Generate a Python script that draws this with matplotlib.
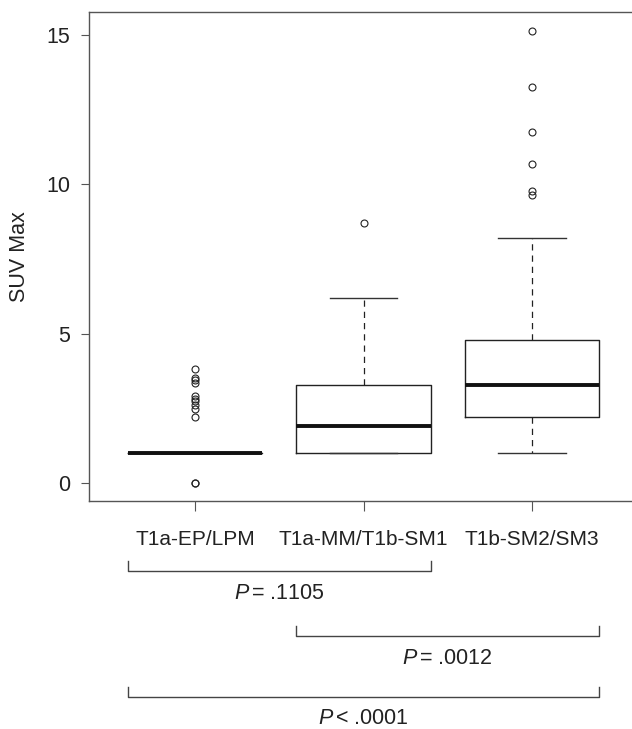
import numpy as np
import matplotlib
matplotlib.use("Agg")
import matplotlib.pyplot as plt
import matplotlib.transforms as mtransforms

plt.rcParams['font.family'] = ['Liberation Sans', 'DejaVu Sans']
plt.rcParams['mathtext.fontset'] = 'custom'
plt.rcParams['mathtext.it'] = 'Liberation Sans:italic'
plt.rcParams['mathtext.rm'] = 'Liberation Sans'

# data (box statistics per group)
groups = ['T1a-EP/LPM', 'T1a-MM/T1b-SM1', 'T1b-SM2/SM3']
q1 = [1.0, 1.0, 2.2]
medians = [1.0, 1.9, 3.3]
q3 = [1.0, 3.3, 4.8]
whis_lo = [1.0, 1.0, 1.0]
whis_hi = [1.0, 6.2, 8.2]
outliers = [
    [0.0, 0.0, 2.21, 2.47, 2.61, 2.75, 2.83, 2.91, 3.36, 3.45, 3.53, 3.82],
    [8.7],
    [9.66, 9.79, 10.67, 11.76, 13.27, 15.15],
]
yticks = [0, 5, 10, 15]

# pairwise comparisons: (first group, last group, label)
comparisons = [
    (1, 2, r'$\mathit{P}\,$= .1105'),
    (2, 3, r'$\mathit{P}\,$= .0012'),
    (1, 3, r'$\mathit{P}\,$< .0001'),
]

W, H = 632, 729
fig = plt.figure(figsize=(W / 100, H / 100), dpi=100)
ax = fig.add_axes([89 / W, 1 - 501 / H, (664 - 89) / W, (501 - 12) / H])

stats = []
for i in range(len(groups)):
    stats.append(dict(med=medians[i], q1=q1[i], q3=q3[i],
                      whislo=whis_lo[i], whishi=whis_hi[i],
                      fliers=outliers[i], label=groups[i]))

positions = np.arange(1, len(groups) + 1)
ink = '#222222'
ax.bxp(stats, positions=positions, widths=0.8, capwidths=0.4,
       boxprops=dict(color=ink, lw=1.0),
       medianprops=dict(color='#111111', lw=2.8, solid_capstyle='butt'),
       whiskerprops=dict(color=ink, lw=0.9, linestyle=(0, (5, 4))),
       capprops=dict(color='#333333', lw=1.0),
       flierprops=dict(marker='o', markersize=5, markerfacecolor='none',
                       markeredgecolor=ink, markeredgewidth=0.8))

px_per_unit = 168.5
x0 = 1 - (195 - 89) / px_per_unit
ax.set_xlim(x0, x0 + (664 - 89) / px_per_unit)
ax.set_ylim(-0.6, 15.77)

ax.set_yticks(yticks)
ax.set_yticklabels([str(t) for t in yticks])
ax.set_xticks(positions)
ax.set_xticklabels(groups)
ax.tick_params(axis='y', length=6, width=0.8, color='#555555', pad=7.5,
               labelsize=15.5, labelcolor=ink)
ax.tick_params(axis='x', length=7, width=0.8, color='#555555', pad=14,
               labelsize=15, labelcolor=ink)
for s in ax.spines.values():
    s.set_color('#555555')
    s.set_linewidth(1.0)

ax.set_ylabel('SUV Max', fontsize=15.5, color=ink, labelpad=12)

# brackets under the axis, x in data units, y in figure pixels
trans = mtransforms.blended_transform_factory(ax.transData, fig.transFigure)
line_y = [571, 636, 697]
text_y = [583, 648, 708]
for (a, b, label), ly, ty in zip(comparisons, line_y, text_y):
    xa, xb = a - 0.4, b + 0.4
    ax.plot([xa, xa, xb, xb],
            [1 - (ly - 10) / H, 1 - ly / H, 1 - ly / H, 1 - (ly - 10) / H],
            transform=trans, color='#444444', lw=1.0, clip_on=False)
    ax.text((xa + xb) / 2, 1 - ty / H, label, transform=trans,
            ha='center', va='top', fontsize=15.5, color=ink)

fig.savefig('out.png', dpi=100)
